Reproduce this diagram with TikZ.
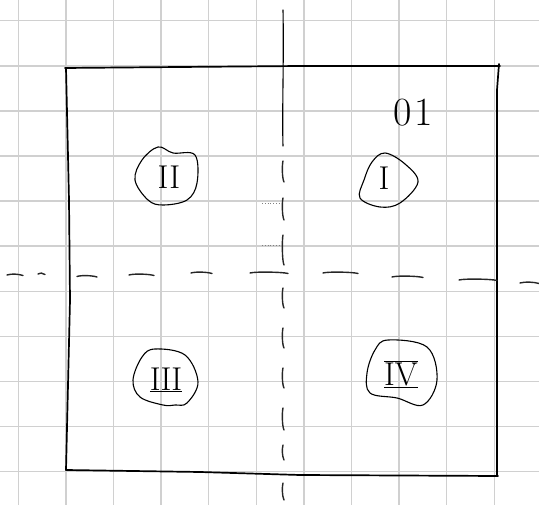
\documentclass[tikz,border=0pt]{standalone}
\usepackage{fontspec}
\usetikzlibrary{calc}
\definecolor{gridgray}{RGB}{208,208,208}
\tikzset{
  gridline/.style={draw=gridgray, line width=1.5pt},
  pen/.style={draw=black, line width=1.7pt, line cap=round, line join=round},
  thinpen/.style={draw=black, line width=1.1pt, line cap=round, line join=round},
  dashpen/.style={draw=black!85, line width=1.4pt, line cap=round},
  numeral/.style={font=\fontsize{33}{33}\selectfont, inner sep=0pt},
}
\begin{document}
\begin{tikzpicture}[x=1pt,y=-1pt]
\useasboundingbox (0,0) rectangle (539,505);
\fill[white] (0,0) rectangle (539,505);
% grid paper
\foreach \k in {0,...,11} {
  \draw[gridline] ({18.3+47.6*\k},0) -- ({18.3+47.6*\k},505);
  \draw[gridline] (0,{20.7+45.1*\k}) -- (539,{20.7+45.1*\k});
}
% square
\draw[pen] (65,68) -- (180,67) -- (300,66) -- (500,66);
\draw[pen] (499,64) -- (497,90) -- (497,300) -- (497,476);
\draw[pen] (66,470) -- (200,472) -- (300,475) -- (498,476);
\draw[pen] (66,68) -- (69,200) -- (70,300) -- (66,470);
% vertical dashed axis
\draw[thinpen] (283,10) .. controls (284,60) and (282,110) .. (283,146);
\foreach \a/\b in {161/182,198/220,235/265,288/308,328/348,368/388,408/430,445/460,483/500}
  \draw[dashpen] (283,\a) .. controls (282,{\a+4}) and (282,{\b-4}) .. (284,\b);
\draw[gray, line width=0.8pt, dotted] (262,203) -- (281,203);
\draw[gray, line width=0.8pt, dotted] (262,245) -- (281,245);
% horizontal dashed axis
\foreach \a/\b/\y in {7/23/275,38/45/274,77/97/276.5,129/154/275,191/212/273,250/288/273,323/358/273,392/423/277,459/497/280,520/539/283}
  \draw[dashpen] (\a,\y) .. controls ({\a+5},{\y-1.5}) and ({\b-5},{\y-1}) .. (\b,{\y+0.5});
% label 01
\node[font=\fontsize{40}{40}\selectfont, inner sep=0pt] (lab01) at (413,113) {0\kern2pt1};
% blobs with numerals
\draw[thinpen] plot[smooth cycle, tension=0.6] coordinates {(158,147) (173,153) (195,155) (197,183) (187,200) (163,205) (148,200) (135,180) (142,160)};
\node[numeral] (nII) at (169,177) {II};
\draw[thinpen] plot[smooth cycle, tension=0.6] coordinates {(385,153) (405,164) (418,182) (400,203) (380,207) (360,198) (364,180) (372,162)};
\node[numeral] (nI) at (384,178) {I};
\draw[thinpen] plot[smooth cycle, tension=0.6] coordinates {(155,349) (185,355) (198,382) (187,403) (175,405) (163,405) (140,397) (133,380) (142,357)};
\node[numeral] (nIII) at (166,380) {$\underline{\mathrm{III}}$};
\draw[thinpen] plot[smooth cycle, tension=0.6] coordinates {(388,340) (427,347) (437,380) (423,405) (397,398) (370,393) (367,373) (375,350)};
\node[numeral] (nIV) at (401,374) {$\overline{\underline{\mathrm{IV}}}$};
\end{tikzpicture}
\end{document}
